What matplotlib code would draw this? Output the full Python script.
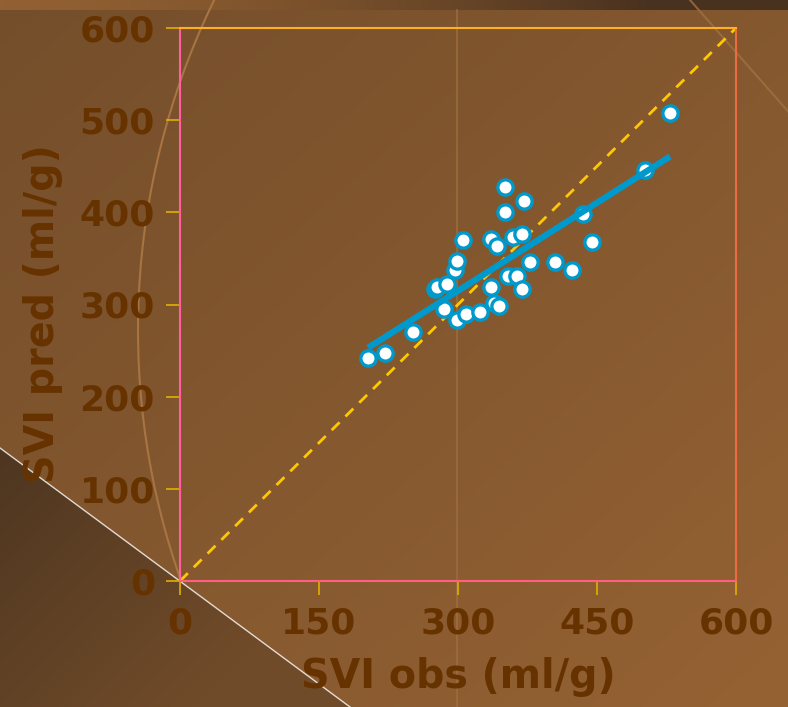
import numpy as np
import matplotlib
matplotlib.use('Agg')
import matplotlib.pyplot as plt
from matplotlib.patches import Polygon, Circle

# valores
svi_obs = [202.9, 221.2, 251.4, 275.2, 277.3, 288.1, 284.9, 296.8, 298.9, 298.9,
           305.4, 308.6, 323.7, 335.6, 335.6, 338.8, 342.1, 344.2, 350.7, 350.7,
           354.0, 359.4, 363.7, 369.1, 369.1, 371.2, 377.7, 404.7, 423.0, 434.9,
           444.6, 501.8, 528.8]
svi_pred = [241.9, 247.4, 270.2, 316.8, 319.0, 322.2, 295.1, 337.4, 347.2, 283.2,
            370.0, 289.7, 291.9, 371.1, 319.0, 301.6, 363.5, 298.4, 427.5, 400.4,
            330.9, 373.2, 330.9, 376.5, 316.8, 412.3, 346.1, 346.1, 337.4, 398.2,
            367.8, 445.9, 507.8]
ticks_x = [0, 150, 300, 450, 600]
ticks_y = [0, 100, 200, 300, 400, 500, 600]

W, H = 788, 707
fig = plt.figure(figsize=(W / 100, H / 100), dpi=100)

# fundo
bg = fig.add_axes([0, 0, 1, 1], zorder=-5)
bg.set_xlim(0, W)
bg.set_ylim(H, 0)
bg.axis('off')
yy, xx = np.mgrid[0:1:200j, 0:1:200j]
t = (xx + yy) / 2
c1 = np.array([0x74, 0x4e, 0x2b]) / 255
c2 = np.array([0x95, 0x62, 0x33]) / 255
img = c1 + (c2 - c1) * t[..., None]
bg.imshow(img, extent=[0, W, H, 0], aspect='auto', zorder=0)

# faixa do topo
tx = np.linspace(0, 1, 200)[None, :]
top1 = np.array([0x92, 0x60, 0x32]) / 255
top2 = np.array([0x48, 0x31, 0x1f]) / 255
band = top1 + (top2 - top1) * np.clip(tx * 1.2, 0, 1)[..., None] ** 1.5
bg.imshow(band, extent=[0, W, 10, 0], aspect='auto', zorder=1)

# triangulo escuro com degrade
d1 = np.array([0x4e, 0x36, 0x21]) / 255
d2 = np.array([0x70, 0x4b, 0x29]) / 255
tt = np.clip((xx * 350 + (yy * 259)) / 450, 0, 1)
dimg = d1 + (d2 - d1) * tt[..., None]
tri = Polygon([[0, 448], [350, H], [0, H]], closed=True,
              facecolor='none', edgecolor='none', zorder=2)
bg.add_patch(tri)
im2 = bg.imshow(dimg, extent=[0, 350, H, 448], aspect='auto', zorder=2)
im2.set_clip_path(tri)
bg.plot([0, 350], [448, H], color='white', lw=1, alpha=0.8, zorder=3)

# linhas decorativas
bg.add_patch(Circle((891, 330), 753, fill=False, edgecolor='#a87442', lw=1.5, zorder=1.5))
bg.plot([457, 457], [10, H], color='#a07040', lw=1.2, alpha=0.8, zorder=1.5)
bg.plot([690, 800], [0, 125], color='#a07040', lw=1.5, alpha=0.8, zorder=1.5)

ax = fig.add_axes([180 / W, 1 - 581 / H, (736 - 180) / W, (581 - 28) / H])
ax.set_facecolor('none')
ax.set_xlim(0, 600)
ax.set_ylim(0, 600)

ax.plot([0, 600], [0, 600], ls=(0, (4, 3)), color='#ffc800', lw=2, zorder=2)
ax.plot(svi_obs, svi_pred, 'o', ms=11, mfc='white', mec='#0099cc', mew=2.4, zorder=3)
a, b = np.polyfit(svi_obs, svi_pred, 1)
xf = np.array([min(svi_obs), max(svi_obs)])
ax.plot(xf, a * xf + b, color='#0099cc', lw=4.5, solid_capstyle='butt', zorder=4)

ax.set_xticks(ticks_x)
ax.set_yticks(ticks_y)
ax.tick_params(length=10, width=1.2, color='#e0b000', labelsize=26,
               labelcolor='#663300', pad=8)
for lab in ax.get_xticklabels() + ax.get_yticklabels():
    lab.set_fontweight('bold')
ax.set_xlabel('SVI obs (ml/g)', fontsize=28.5, fontweight='bold', color='#663300', labelpad=12)
ax.set_ylabel('SVI pred (ml/g)', fontsize=28.5, fontweight='bold', color='#663300', labelpad=12)
ax.yaxis.label.set_y(0.483)

ax.spines['left'].set_color('#ff5fa0')
ax.spines['bottom'].set_color('#ff5f80')
ax.spines['top'].set_color('#ffb020')
ax.spines['right'].set_color('#f06a40')
for s in ax.spines.values():
    s.set_linewidth(1.5)

fig.savefig('out.png', dpi=100)
